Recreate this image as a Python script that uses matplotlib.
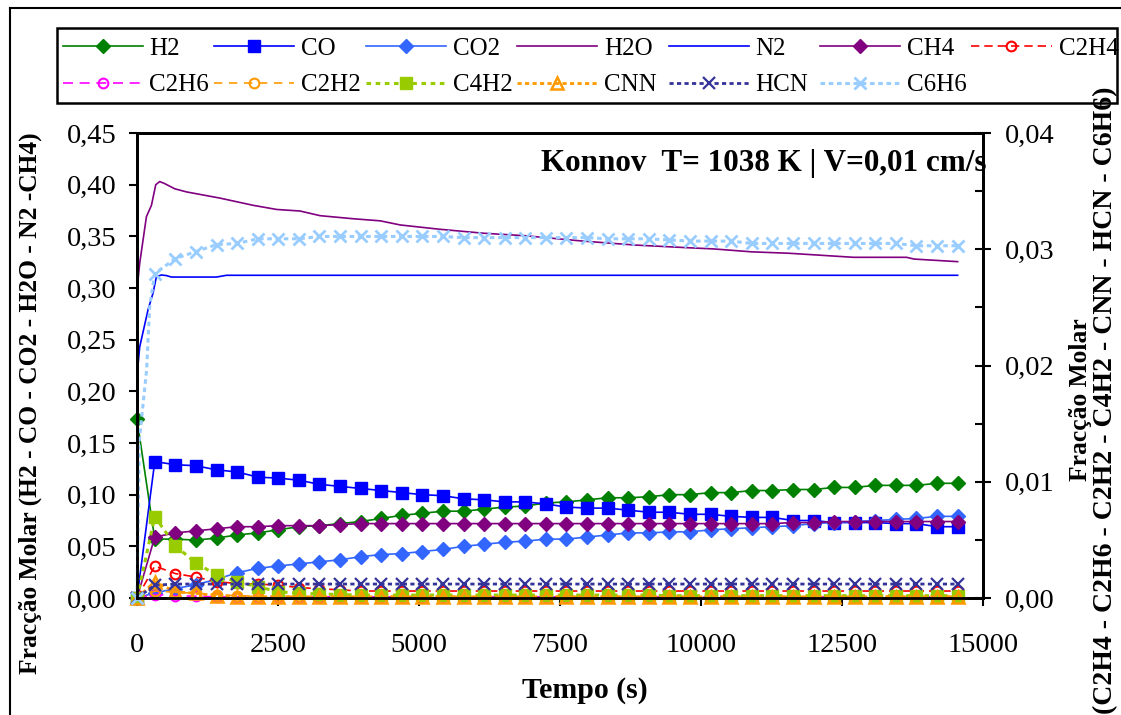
import matplotlib
matplotlib.use("Agg")
import matplotlib.pyplot as plt
from matplotlib.lines import Line2D
from matplotlib.patches import Rectangle
from matplotlib.ticker import FuncFormatter, MultipleLocator

plt.rcParams['font.family'] = ['Liberation Serif', 'DejaVu Serif']
plt.rcParams['font.size'] = 19

# time grid of the marked series (s)
t = [0, 315, 680, 1045, 1410, 1775, 2140, 2505, 2870, 3235, 3600, 3965, 4330, 4695,
     5060, 5425, 5790, 6155, 6520, 6885, 7250, 7615, 7980, 8345, 8710, 9075, 9440,
     9805, 10170, 10535, 10900, 11265, 11630, 11995, 12360, 12725, 13090, 13455,
     13820, 14185, 14550]

# left axis species
h2 = [0.173, 0.057, 0.057, 0.056, 0.058, 0.061, 0.063, 0.066, 0.069, 0.070, 0.072,
      0.074, 0.077, 0.080, 0.082, 0.084, 0.084, 0.086, 0.088, 0.089, 0.092, 0.093,
      0.095, 0.097, 0.097, 0.098, 0.100, 0.100, 0.102, 0.102, 0.104, 0.104, 0.105,
      0.105, 0.107, 0.107, 0.109, 0.109, 0.109, 0.111, 0.111]
co = [0.0, 0.132, 0.129, 0.128, 0.124, 0.122, 0.117, 0.116, 0.114, 0.110, 0.108,
      0.106, 0.104, 0.102, 0.100, 0.099, 0.096, 0.095, 0.093, 0.093, 0.091, 0.088,
      0.087, 0.087, 0.085, 0.083, 0.083, 0.081, 0.081, 0.079, 0.078, 0.078, 0.075,
      0.075, 0.073, 0.073, 0.073, 0.072, 0.072, 0.069, 0.069]
co2 = [0.0, 0.005, 0.009, 0.013, 0.018, 0.0245, 0.0287, 0.031, 0.033, 0.035, 0.037,
       0.040, 0.042, 0.043, 0.045, 0.047, 0.050, 0.052, 0.054, 0.055, 0.057, 0.057,
       0.059, 0.061, 0.063, 0.063, 0.064, 0.064, 0.066, 0.067, 0.068, 0.069, 0.070,
       0.072, 0.073, 0.074, 0.075, 0.076, 0.077, 0.079, 0.079]
ch4 = [0.0, 0.059, 0.063, 0.065, 0.067, 0.069, 0.069, 0.070, 0.070, 0.070, 0.071,
       0.072, 0.072, 0.072, 0.072, 0.072, 0.072, 0.072, 0.072, 0.072, 0.072, 0.072,
       0.072, 0.072, 0.072, 0.072, 0.072, 0.072, 0.072, 0.072, 0.072, 0.072, 0.073,
       0.073, 0.074, 0.074, 0.074, 0.074, 0.074, 0.074, 0.074]

t_h2o = [0, 48, 167, 256, 333, 403, 492, 670, 877, 1470, 2061, 2477, 2891, 3246, 3838,
         4312, 4668, 5338, 6143, 6879, 7884, 8820, 9758, 10229, 10897, 11567, 12706,
         13644, 13778, 14550]
h2o = [0.298, 0.324, 0.369, 0.380, 0.400, 0.403, 0.401, 0.396, 0.393, 0.387, 0.380,
       0.376, 0.3745, 0.370, 0.367, 0.365, 0.361, 0.357, 0.353, 0.3506, 0.3455, 0.3416,
       0.339, 0.3378, 0.335, 0.3336, 0.3297, 0.3297, 0.328, 0.3255]
t_n2 = [0, 48, 196, 284, 344, 433, 522, 611, 1410, 1588, 14550]
n2 = [0.215, 0.243, 0.279, 0.295, 0.311, 0.3126, 0.312, 0.3106, 0.3106, 0.3123, 0.3123]

# right axis species
c2h4 = [0.0, 0.00275, 0.0021, 0.0018, 0.0014, 0.00125, 0.0012, 0.0011, 0.0009, 0.0008,
        0.0007, 0.0006, 0.0006, 0.0006, 0.0006, 0.0006, 0.0006, 0.0006, 0.0006, 0.0006,
        0.0006, 0.0006, 0.0006, 0.0006, 0.0006, 0.0006, 0.0006, 0.0006, 0.0006, 0.0006,
        0.0006, 0.0006, 0.0006, 0.0006, 0.0006, 0.0006, 0.0006, 0.0006, 0.0006, 0.0006,
        0.0006]
c2h6 = [0.0, 0.0003, 0.0002, 0.00015, 0.0001, 0.0001, 0.0001, 0.0001, 0.0001, 0.0001,
        0.0001, 0.0001, 0.0001, 0.0001, 0.0001, 0.0001, 0.0001, 0.0001, 0.0001, 0.0001,
        0.0001, 0.0001, 0.0001, 0.0001, 0.0001, 0.0001, 0.0001, 0.0001, 0.0001, 0.0001,
        0.0001, 0.0001, 0.0001, 0.0001, 0.0001, 0.0001, 0.0001, 0.0001, 0.0001, 0.0001,
        0.0001]
c2h2 = [0.0, 0.0006, 0.0005, 0.0004, 0.0003, 0.0002, 0.00015, 0.00015, 0.00015, 0.00015,
        0.00015, 0.00015, 0.00015, 0.00015, 0.00015, 0.00015, 0.00015, 0.00015, 0.00015,
        0.00015, 0.00015, 0.00015, 0.00015, 0.00015, 0.00015, 0.00015, 0.00015, 0.00015,
        0.00015, 0.00015, 0.00015, 0.00015, 0.00015, 0.00015, 0.00015, 0.00015, 0.00015,
        0.00015, 0.00015, 0.00015, 0.00015]
c4h2 = [0.0, 0.0070, 0.0045, 0.0030, 0.0020, 0.0014, 0.00097, 0.00054, 0.0004, 0.00035,
        0.0003, 0.00025, 0.00025, 0.00025, 0.00025, 0.00025, 0.00025, 0.00025, 0.00025,
        0.00025, 0.00025, 0.00025, 0.00025, 0.00025, 0.00025, 0.00025, 0.0002, 0.0002,
        0.0002, 0.0002, 0.0002, 0.0002, 0.0002, 0.0002, 0.0002, 0.0002, 0.0002, 0.0002,
        0.0002, 0.0002, 0.0002]
cnn = [0.0, 0.0014, 0.00054, 0.0004, 0.0002, 0.0001, 0.0001, 0.0001, 0.0001, 0.0001,
       0.0001, 0.0001, 0.0001, 0.0001, 0.0001, 0.0001, 0.0001, 0.0001, 0.0001, 0.0001,
       0.0001, 0.0001, 0.0001, 0.0001, 0.0001, 0.0001, 0.0001, 0.0001, 0.0001, 0.0001,
       0.0001, 0.0001, 0.0001, 0.0001, 0.0001, 0.0001, 0.0001, 0.0001, 0.0001, 0.0001,
       0.0001]
hcn = [0.0, 0.0011, 0.0012, 0.0012, 0.0012, 0.0012, 0.0012, 0.0012, 0.0012, 0.0012,
       0.0012, 0.0012, 0.0012, 0.0012, 0.0012, 0.0012, 0.0012, 0.0012, 0.0012, 0.0012,
       0.0012, 0.0012, 0.0012, 0.0012, 0.0012, 0.0012, 0.0012, 0.0012, 0.0012, 0.0012,
       0.0012, 0.0012, 0.0012, 0.0012, 0.0012, 0.0012, 0.0012, 0.0012, 0.0012, 0.0012,
       0.0012]
# C6H6 has a few extra early points before the first marker
t_c6h6_early = [0, 40, 170, 225]
c6h6_early = [0.0, 0.0135, 0.0196, 0.0251]
c6h6 = [0.0279, 0.0292, 0.0298, 0.0304, 0.0305, 0.0309, 0.0309, 0.0309, 0.0311, 0.0311,
        0.0311, 0.0311, 0.0311, 0.0311, 0.0311, 0.0310, 0.0310, 0.0310, 0.0310, 0.0310,
        0.0310, 0.0310, 0.0309, 0.0309, 0.0309, 0.0308, 0.0307, 0.0307, 0.0307, 0.0305,
        0.0305, 0.0305, 0.0305, 0.0305, 0.0305, 0.0305, 0.0305, 0.0303, 0.0303, 0.0303]

# legend layout: one list per column, as in the original
legend_columns = [['H2', 'C2H6'], ['CO', 'C2H2'], ['CO2', 'C4H2'], ['H2O', 'CNN'],
                  ['N2', 'HCN'], ['CH4', 'C6H6'], ['C2H4']]

W, H = 1121, 715
fig = plt.figure(figsize=(W / 100, H / 100), dpi=100)
ax = fig.add_axes([137 / W, 1 - 598 / H, (983 - 137) / W, (598 - 133) / H])
ax2 = ax.twinx()

kw = dict(clip_on=False, lw=1.2)
handles = {}
handles['H2'], = ax.plot(t, h2, color='#008000', marker='D', ms=7, **kw)
handles['CO'], = ax.plot(t, co, color='#0000FF', marker='s', ms=8, **kw)
handles['CO2'], = ax.plot(t, co2, color='#3366FF', marker='D', ms=7, **kw)
handles['H2O'], = ax.plot(t_h2o, h2o, color='#800080', **kw)
handles['N2'], = ax.plot(t_n2, n2, color='#0000FF', **kw)
handles['CH4'], = ax.plot(t, ch4, color='#800080', marker='D', ms=7, **kw)

handles['C2H4'], = ax2.plot(t, c2h4, color='#FF0000', ls=(0, (5, 3)), marker='o', ms=7,
                            mfc='none', mew=1.5, **kw)
handles['C2H6'], = ax2.plot(t, c2h6, color='#FF00FF', ls=(0, (6, 4)), marker='o', ms=7,
                            mfc='none', mew=1.5, **kw)
handles['C2H2'], = ax2.plot(t, c2h2, color='#FF9900', ls=(0, (5, 4)), marker='o', ms=7,
                            mfc='none', mew=1.5, **kw)
handles['C4H2'], = ax2.plot(t, c4h2, color='#99CC00', ls=(0, (1.5, 1.5)), lw=2.2,
                            marker='s', ms=8.5, clip_on=False)
handles['CNN'], = ax2.plot(t, cnn, color='#FF9900', ls=(0, (1.5, 1.2)), lw=2,
                           marker='^', ms=8, mfc='none', mew=1.8, clip_on=False)
handles['HCN'], = ax2.plot(t, hcn, color='#333399', ls=(0, (1.5, 1.2)), lw=2,
                           marker='x', ms=8, mew=1.6, clip_on=False)
handles['C6H6'], = ax2.plot(t_c6h6_early + t[1:], c6h6_early + c6h6, color='#99CCFF',
                            ls=(0, (1.5, 1.2)), lw=2.2, marker='x', ms=9, mew=2,
                            markevery=[0] + list(range(len(t_c6h6_early), len(t_c6h6_early) + len(c6h6))),
                            clip_on=False)

ax.set_xlim(0, 15000)
ax.set_ylim(0, 0.45)
ax2.set_ylim(0, 0.04)
ax.xaxis.set_major_locator(MultipleLocator(2500))
ax.yaxis.set_major_locator(MultipleLocator(0.05))
ax2.yaxis.set_major_locator(MultipleLocator(0.01))
ax2.yaxis.set_minor_locator(MultipleLocator(0.005))
comma = FuncFormatter(lambda v, _: f"{v:.2f}".replace('.', ','))
ax.yaxis.set_major_formatter(comma)
ax2.yaxis.set_major_formatter(comma)

ax.tick_params(axis='y', direction='out', length=6, width=1.5, pad=9, labelsize=20.5)
ax.tick_params(axis='x', direction='out', length=6, width=1.5, pad=19, labelsize=20.5)
ax2.tick_params(axis='y', which='major', direction='inout', length=12, width=1.5,
                pad=10, labelsize=20.5)
ax2.tick_params(axis='y', which='minor', direction='in', length=6, width=1.5)

for a in (ax, ax2):
    for s in a.spines.values():
        s.set_linewidth(2)
        s.set_color('black')

ax.text(541 / W, 1 - 163 / H, "Konnov  T= 1038 K | V=0,01 cm/s", transform=fig.transFigure,
        fontsize=22.4, fontweight='bold', ha='left', va='center')

fig.text(585 / W, 1 - 690 / H, "Tempo (s)", fontsize=21.5, fontweight='bold',
         ha='center', va='center')
fig.text(30 / W, 1 - 403 / H, "Fracção Molar (H2 - CO - CO2 - H2O - N2 -CH4)",
         fontsize=18.4, fontweight='bold', rotation=90, ha='center', va='center')
fig.text(1080 / W, 1 - 400 / H, "Fracção Molar", fontsize=18.4, fontweight='bold',
         rotation=90, ha='center', va='center')
fig.text(1106 / W, 1 - 400 / H, "(C2H4 - C2H6 - C2H2 - C4H2 - CNN - HCN - C6H6)",
         fontsize=20, fontweight='bold', rotation=90, ha='center', va='center')

# Excel-style legend with equal column widths: one frameless legend per column
col_pitch = 151.5
for i, names in enumerate(legend_columns):
    leg = fig.legend([handles[k] for k in names], names, loc='upper left',
                     bbox_to_anchor=((55 + i * col_pitch) / W, 1 - 30 / H), fontsize=18,
                     frameon=False, borderpad=0.3, labelspacing=0.55, handlelength=3.2,
                     handletextpad=0.28, borderaxespad=0, numpoints=1)
fig.add_artist(Rectangle((57 / W, 1 - 103 / H), (1117 - 57) / W, (103 - 28) / H,
                         transform=fig.transFigure, fill=False, edgecolor='black', lw=1.8))

# outer chart border
fig.add_artist(Line2D([10 / W, 1], [1 - 8 / H, 1 - 8 / H], transform=fig.transFigure,
                      color='black', lw=1.5))
fig.add_artist(Line2D([10 / W, 10 / W], [0, 1 - 8 / H], transform=fig.transFigure,
                      color='black', lw=1.5))

fig.savefig("out.png", dpi=100)
